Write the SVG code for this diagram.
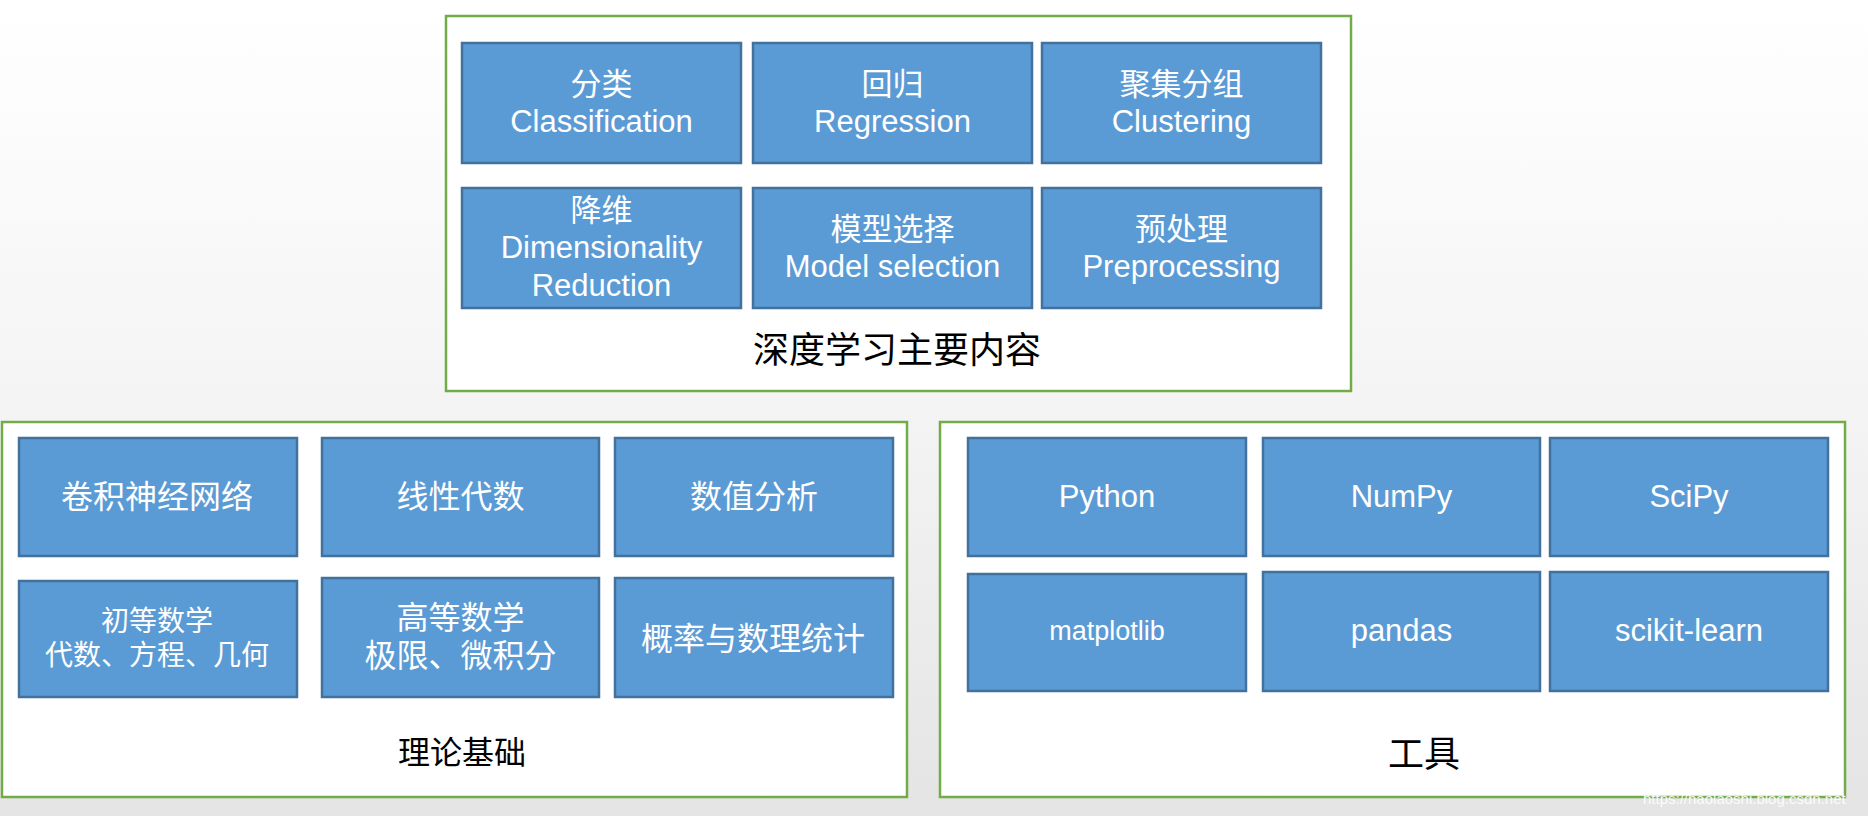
<svg xmlns="http://www.w3.org/2000/svg" width="1868" height="816" viewBox="0 0 1868 816">
<defs>
<linearGradient id="bg" x1="0" y1="0" x2="0" y2="1">
<stop offset="0" stop-color="#ffffff"/>
<stop offset="0.5" stop-color="#f4f4f4"/>
<stop offset="1" stop-color="#e4e4e4"/>
</linearGradient>
</defs>
<style>
.panel{fill:#ffffff;stroke:#70ad47;stroke-width:2.5}
.box{fill:#5b9bd5;stroke:#41719c;stroke-width:2.5}
.t{font-family:"Liberation Sans","Noto Sans CJK SC",sans-serif;fill:#ffffff;text-anchor:middle;font-size:31px}
.c{font-size:32px}
.s{font-size:28px}
.m{font-size:27px}
.title{font-family:"Noto Sans CJK SC",sans-serif;fill:#000000;text-anchor:middle}
.wm{font-family:"Liberation Sans",sans-serif;font-size:15px;fill:#ffffff;opacity:0.9}
</style>
<rect x="0" y="0" width="1868" height="816" fill="url(#bg)"/>

<g id="panel-main">
<rect class="panel" x="446" y="16" width="905" height="375"/>
<text class="title" x="897" y="363" font-size="36">深度学习主要内容</text>
</g>
<g id="n-classification">
<rect class="box" x="462" y="43" width="279" height="120"/>
<text class="t" x="601.5" y="95">分类</text>
<text class="t" x="601.5" y="132">Classification</text>
</g>
<g id="n-regression">
<rect class="box" x="753" y="43" width="279" height="120"/>
<text class="t" x="892.5" y="95">回归</text>
<text class="t" x="892.5" y="132">Regression</text>
</g>
<g id="n-clustering">
<rect class="box" x="1042" y="43" width="279" height="120"/>
<text class="t" x="1181.5" y="95">聚集分组</text>
<text class="t" x="1181.5" y="132">Clustering</text>
</g>
<g id="n-dimred">
<rect class="box" x="462" y="188" width="279" height="120"/>
<text class="t" x="601.5" y="221">降维</text>
<text class="t" x="601.5" y="258">Dimensionality</text>
<text class="t" x="601.5" y="296">Reduction</text>
</g>
<g id="n-model">
<rect class="box" x="753" y="188" width="279" height="120"/>
<text class="t" x="892.5" y="240">模型选择</text>
<text class="t" x="892.5" y="277">Model selection</text>
</g>
<g id="n-preproc">
<rect class="box" x="1042" y="188" width="279" height="120"/>
<text class="t" x="1181.5" y="240">预处理</text>
<text class="t" x="1181.5" y="277">Preprocessing</text>
</g>

<g id="panel-theory">
<rect class="panel" x="2" y="422" width="905" height="375"/>
<text class="title" x="462" y="764" font-size="32">理论基础</text>
</g>
<g id="n-cnn">
<rect class="box" x="19" y="438" width="278" height="118"/>
<text class="t c" x="157" y="508">卷积神经网络</text>
</g>
<g id="n-linalg">
<rect class="box" x="322" y="438" width="277" height="118"/>
<text class="t c" x="460.5" y="508">线性代数</text>
</g>
<g id="n-numeric">
<rect class="box" x="615" y="438" width="278" height="118"/>
<text class="t c" x="754" y="508">数值分析</text>
</g>
<g id="n-elem">
<rect class="box" x="19" y="581" width="278" height="116"/>
<text class="t s" x="157" y="631">初等数学</text>
<text class="t s" x="157" y="665">代数、方程、几何</text>
</g>
<g id="n-higher">
<rect class="box" x="322" y="578" width="277" height="119"/>
<text class="t c" x="460.5" y="629">高等数学</text>
<text class="t c" x="460.5" y="667">极限、微积分</text>
</g>
<g id="n-prob">
<rect class="box" x="615" y="578" width="278" height="119"/>
<text class="t c" x="753" y="650">概率与数理统计</text>
</g>

<g id="panel-tools">
<rect class="panel" x="940" y="422" width="905" height="375"/>
<text class="title" x="1424" y="767" font-size="36">工具</text>
</g>
<g id="n-python">
<rect class="box" x="968" y="438" width="278" height="118"/>
<text class="t" x="1107" y="507">Python</text>
</g>
<g id="n-numpy">
<rect class="box" x="1263" y="438" width="277" height="118"/>
<text class="t" x="1401.5" y="507">NumPy</text>
</g>
<g id="n-scipy">
<rect class="box" x="1550" y="438" width="278" height="118"/>
<text class="t" x="1689" y="507">SciPy</text>
</g>
<g id="n-matplotlib">
<rect class="box" x="968" y="574" width="278" height="117"/>
<text class="t m" x="1107" y="640">matplotlib</text>
</g>
<g id="n-pandas">
<rect class="box" x="1263" y="572" width="277" height="119"/>
<text class="t" x="1401.5" y="641">pandas</text>
</g>
<g id="n-sklearn">
<rect class="box" x="1550" y="572" width="278" height="119"/>
<text class="t" x="1689" y="641">scikit-learn</text>
</g>

<g id="connectors"></g>
<text class="wm" x="1643" y="804">https://haolaoshi.blog.csdn.net</text>
</svg>
